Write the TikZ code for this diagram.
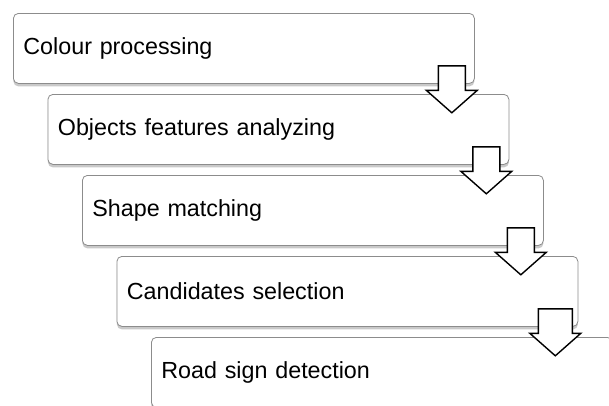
\documentclass[tikz,border=0pt]{standalone}
\usepackage{fontspec}
\setmainfont{Liberation Sans}
\usetikzlibrary{shadows,calc}
\tikzset{
  stagebox/.style={draw=black!45, line width=0.8pt, fill=white, rounded corners=5pt,
    anchor=north west, text width=441pt, inner xsep=10pt, inner ysep=0pt,
    minimum height=70pt, align=left, font=\fontsize{23.3}{27}\selectfont,
    drop shadow={shadow xshift=0pt, shadow yshift=-3pt, opacity=0.35, fill=black!60}},
  arrowshape/.style={draw=black, line width=1.4pt, fill=white, line join=miter}
}
\newcommand\blockarr[2]{%
  \draw[arrowshape] ([shift={(-#2,-18)}]#1) -- ([shift={(#2,-18)}]#1)
    -- ([shift={(#2,6.5)}]#1) -- ([shift={(25.5,6.5)}]#1) -- ([shift={(0,29)}]#1)
    -- ([shift={(-25.5,6.5)}]#1) -- ([shift={(-#2,6.5)}]#1) -- cycle;}
\begin{document}
\begin{tikzpicture}[x=1pt,y=-1pt]
  \clip (0,0) rectangle (609,405);
  \fill[white] (0,0) rectangle (609,405);
  \node[stagebox] (b1) at (13,13) {Colour processing};
  \node[stagebox] (b2) at (47.5,94) {Objects features analyzing};
  \node[stagebox] (b3) at (82,175) {Shape matching};
  \node[stagebox] (b4) at (116.5,256) {Candidates selection};
  \node[stagebox] (b5) at (151,337) {Road sign detection};
  \coordinate (a1) at ($(b1.south east)+(-23,0)$);
  \coordinate (a2) at ($(b2.south east)+(-23,0)$);
  \coordinate (a3) at ($(b3.south east)+(-23,0)$);
  \coordinate (a4) at ($(b4.south east)+(-23,0)$);
  \blockarr{a1}{13.5}
  \blockarr{a2}{13.5}
  \blockarr{a3}{13.5}
  \blockarr{a4}{17}
\end{tikzpicture}
\end{document}
